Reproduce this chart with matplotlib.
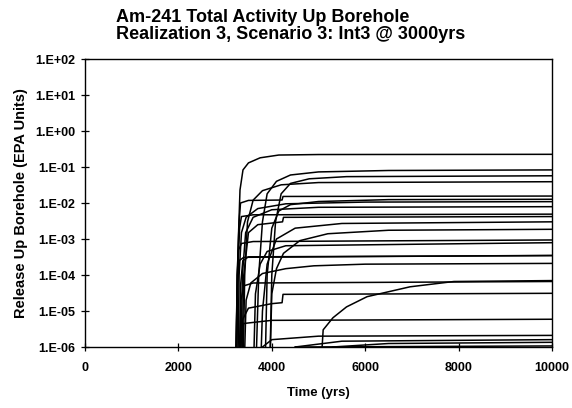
import matplotlib
matplotlib.use("Agg")
import matplotlib.pyplot as plt

# Release up borehole per vector, (time in yrs, release in EPA units)
c01 = [(3230, 1e-6), (3276, 4.9e-4), (3319, 2.3e-2), (3383, 8.3e-2), (3500, 0.13), (3750, 0.18), (4150, 0.215), (5000, 0.222), (10000, 0.225)]
c02 = [(3650, 1e-7), (3720, 1e-4), (3800, 3e-3), (3900, 0.018), (4100, 0.04), (4400, 0.06), (5000, 0.073), (6500, 0.08), (10000, 0.083)]
c03 = [(3950, 1e-7), (4000, 1e-4), (4080, 3e-3), (4200, 0.018), (4400, 0.035), (4800, 0.047), (5600, 0.054), (10000, 0.057)]
c04 = [(3380, 1e-7), (3420, 1e-4), (3480, 3e-3), (3600, 0.012), (3800, 0.022), (4200, 0.032), (5000, 0.037), (10000, 0.039)]
c05 = [(3230, 1e-7), (3260, 1e-4), (3300, 3e-3), (3330, 0.01), (3500, 0.0118), (4000, 0.012), (4220, 0.0121), (4240, 0.0152), (10000, 0.0156)]
c06 = [(3850, 1e-7), (3900, 1e-4), (4000, 2e-3), (4150, 6e-3), (4400, 9e-3), (5000, 0.011), (6500, 0.0124), (10000, 0.0127)]
c07 = [(3270, 1e-7), (3300, 1e-4), (3350, 1.5e-3), (3450, 4e-3), (3700, 7e-3), (4300, 9.5e-3), (6000, 0.0106), (10000, 0.0109)]
c08 = [(3330, 1e-7), (3370, 1e-4), (3440, 1.5e-3), (3600, 4e-3), (4000, 6.5e-3), (5000, 7.6e-3), (10000, 7.9e-3)]
c09 = [(3240, 1e-7), (3270, 1e-4), (3310, 2e-3), (3350, 4.2e-3), (3600, 4.7e-3), (10000, 4.9e-3)]
c10 = [(3350, 1e-7), (3400, 1e-4), (3500, 1.5e-3), (3700, 2.5e-3), (4230, 3.0e-3), (4250, 4.0e-3), (10000, 4.2e-3)]
c11 = [(3750, 1e-7), (3800, 1e-5), (3900, 2e-4), (4100, 1e-3), (4500, 2e-3), (5500, 2.7e-3), (10000, 3e-3)]
c12 = [(3950, 1e-7), (4000, 3e-5), (4100, 1.5e-4), (4250, 4e-4), (4600, 9e-4), (5200, 1.4e-3), (6500, 1.75e-3), (10000, 1.86e-3)]
c13 = [(3230, 1e-7), (3260, 1e-4), (3290, 5e-4), (3350, 7.5e-4), (3600, 8.5e-4), (10000, 9.4e-4)]
c14 = [(3600, 1e-7), (3650, 3e-5), (3750, 2e-4), (3900, 4.5e-4), (4300, 6.5e-4), (10000, 7.9e-4)]
c15 = [(3240, 1e-7), (3270, 5e-5), (3300, 2.5e-4), (3400, 3.1e-4), (10000, 3.5e-4)]
c16 = [(3300, 1e-7), (3330, 5e-5), (3380, 2.5e-4), (3500, 3.2e-4), (10000, 3.45e-4)]
c17 = [(3400, 1e-7), (3450, 2e-5), (3550, 6e-5), (3800, 1.1e-4), (4300, 1.5e-4), (4900, 1.8e-4), (6000, 2e-4), (10000, 2.1e-4)]
c18 = [(3300, 1e-7), (3340, 2e-5), (3400, 5e-5), (3600, 6e-5), (10000, 6.6e-5)]
c19 = [(5030, 1e-7), (5100, 3e-6), (5310, 6.5e-6), (5600, 1.3e-5), (6040, 2.5e-5), (6960, 4.7e-5), (7900, 6.6e-5), (10000, 7e-5)]
c20 = [(3300, 1e-7), (3350, 5e-6), (3500, 1.2e-5), (4000, 1.6e-5), (4220, 1.7e-5), (4240, 2.9e-5), (10000, 3.1e-5)]
c21 = [(3300, 1e-7), (3330, 2e-6), (3400, 4.5e-6), (4000, 5.5e-6), (10000, 5.9e-6)]
c22 = [(3700, 1e-7), (3800, 1e-6), (4000, 1.6e-6), (5000, 2e-6), (10000, 2.1e-6)]
c23 = [(4300, 1e-7), (4500, 1e-6), (5500, 1.45e-6), (10000, 1.6e-6)]
c24 = [(5000, 1e-7), (5300, 1e-6), (6500, 1.25e-6), (10000, 1.35e-6)]
c25 = [(3800, 1e-7), (4500, 1e-6), (10000, 1.07e-6)]
curves = [c01, c02, c03, c04, c05, c06, c07, c08, c09, c10, c11, c12,
          c13, c14, c15, c16, c17, c18, c19, c20, c21, c22, c23, c24, c25]

x_ticks = [0, 2000, 4000, 6000, 8000, 10000]
y_ticks = [1e-6, 1e-5, 1e-4, 1e-3, 1e-2, 1e-1, 1e0, 1e1, 1e2]
y_tick_labels = ["1.E-06", "1.E-05", "1.E-04", "1.E-03", "1.E-02",
                 "1.E-01", "1.E+00", "1.E+01", "1.E+02"]

plt.rcParams["font.family"] = ["Liberation Sans", "DejaVu Sans"]
plt.rcParams["font.weight"] = "bold"

fig = plt.figure(figsize=(5.72, 4.08), dpi=100)
ax = fig.add_axes([85 / 572, 1 - 347 / 408, 467 / 572, 288 / 408])

for c in curves:
    t = [p[0] for p in c]
    v = [p[1] for p in c]
    ax.plot(t, v, color="black", lw=1.1)

ax.set_yscale("log")
ax.set_xlim(0, 10000)
ax.set_ylim(1e-6, 1e2)
ax.set_xticks(x_ticks)
ax.set_xticklabels([str(x) for x in x_ticks])
ax.set_yticks(y_ticks)
ax.set_yticklabels(y_tick_labels)
ax.minorticks_off()
ax.tick_params(axis="both", direction="inout", length=6, width=0.9,
               labelsize=9, colors="black")
ax.tick_params(axis="x", pad=8)
ax.tick_params(axis="y", pad=4)
for s in ax.spines.values():
    s.set_linewidth(1.0)

ax.set_xlabel("Time (yrs)", fontsize=9.5, fontweight="bold", labelpad=9)
ax.set_ylabel("Release Up Borehole (EPA Units)", fontsize=10.5, fontweight="bold", labelpad=5)

fig.text(116 / 572, 1 - 22 / 408, "Am-241 Total Activity Up Borehole",
         fontsize=13, fontweight="bold", ha="left", va="baseline")
fig.text(116 / 572, 1 - 39 / 408, "Realization 3, Scenario 3: Int3 @ 3000yrs",
         fontsize=13, fontweight="bold", ha="left", va="baseline")

fig.savefig("out.png", dpi=100)
